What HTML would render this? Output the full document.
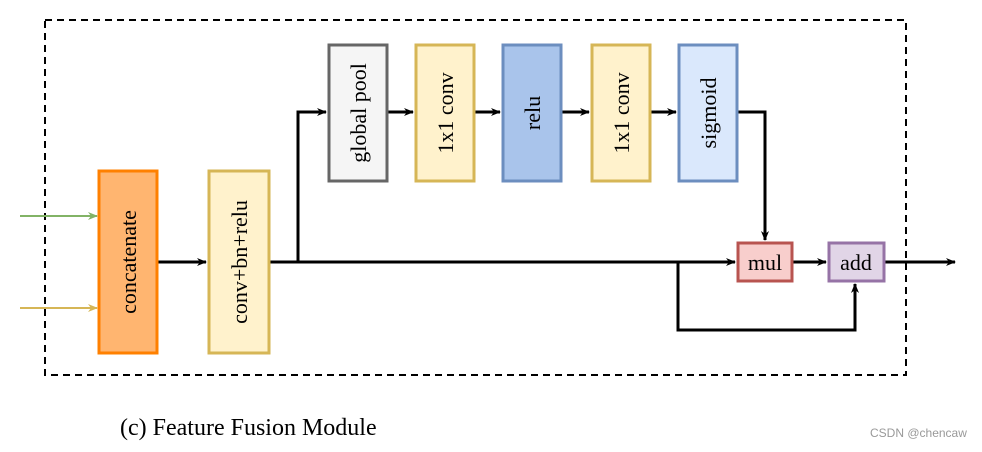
<!DOCTYPE html>
<html><head><style>body{margin:0;background:#fff}</style></head><body>
<svg width="982" height="447" xmlns="http://www.w3.org/2000/svg" font-family="Liberation Serif, serif">
<defs>
<marker id="a" markerWidth="10" markerHeight="8" refX="9" refY="4" orient="auto" markerUnits="userSpaceOnUse"><path d="M0,0 L10,4 L0,8 L3,4z" fill="#000"/></marker>
<marker id="g" markerWidth="10" markerHeight="8" refX="9" refY="4" orient="auto" markerUnits="userSpaceOnUse"><path d="M0,0 L10,4 L0,8 L3,4z" fill="#82b366"/></marker>
<marker id="y" markerWidth="10" markerHeight="8" refX="9" refY="4" orient="auto" markerUnits="userSpaceOnUse"><path d="M0,0 L10,4 L0,8 L3,4z" fill="#d6b656"/></marker>
</defs>
<rect x="45" y="20" width="861" height="355" fill="none" stroke="#000" stroke-width="2" stroke-dasharray="7,5"/>
<line x1="20" y1="216" x2="97" y2="216" stroke="#82b366" stroke-width="2" marker-end="url(#g)"/>
<line x1="20" y1="308" x2="97" y2="308" stroke="#d6b656" stroke-width="2" marker-end="url(#y)"/>
<g stroke="#000" stroke-width="3" fill="none">
<line x1="158" y1="262" x2="206" y2="262" marker-end="url(#a)"/>
<line x1="270" y1="262" x2="735" y2="262" marker-end="url(#a)"/>
<polyline points="298,262 298,112 326,112" marker-end="url(#a)"/>
<line x1="388" y1="112" x2="413" y2="112" marker-end="url(#a)"/>
<line x1="475" y1="112" x2="500" y2="112" marker-end="url(#a)"/>
<line x1="562" y1="112" x2="589" y2="112" marker-end="url(#a)"/>
<line x1="651" y1="112" x2="676" y2="112" marker-end="url(#a)"/>
<polyline points="738,112 765,112 765,240" marker-end="url(#a)"/>
<line x1="793" y1="262" x2="826" y2="262" marker-end="url(#a)"/>
<polyline points="678,262 678,330 855,330 855,284" marker-end="url(#a)"/>
<line x1="885" y1="262" x2="955" y2="262" marker-end="url(#a)"/>
</g>
<g stroke-width="3">
<rect x="99" y="171" width="58" height="182" fill="#ffb570" stroke="#ff8000"/>
<rect x="209" y="171" width="60" height="182" fill="#fff2cc" stroke="#d6b656"/>
<rect x="329" y="45" width="58" height="136" fill="#f5f5f5" stroke="#666"/>
<rect x="416" y="45" width="58" height="136" fill="#fff2cc" stroke="#d6b656"/>
<rect x="503" y="45" width="58" height="136" fill="#a9c4eb" stroke="#6c8ebf"/>
<rect x="592" y="45" width="58" height="136" fill="#fff2cc" stroke="#d6b656"/>
<rect x="679" y="45" width="58" height="136" fill="#dae8fc" stroke="#6c8ebf"/>
<rect x="738" y="243" width="54" height="38" fill="#f8cecc" stroke="#b85450"/>
<rect x="829" y="243" width="55" height="38" fill="#e1d5e7" stroke="#9673a6"/>
</g>
<g font-size="22" text-anchor="middle" fill="#000">
<text transform="translate(136,262) rotate(-90)">concatenate</text>
<text transform="translate(247,262) rotate(-90)">conv+bn+relu</text>
<text transform="translate(366,113) rotate(-90)">global pool</text>
<text transform="translate(453,113) rotate(-90)">1x1 conv</text>
<text transform="translate(540,113) rotate(-90)">relu</text>
<text transform="translate(629,113) rotate(-90)">1x1 conv</text>
<text transform="translate(716,113) rotate(-90)">sigmoid</text>
<text x="765" y="270">mul</text>
<text x="856" y="270">add</text>
</g>
<text x="120" y="435" font-size="24">(c) Feature Fusion Module</text>
<text x="870" y="437" font-size="12" font-family="Liberation Sans, sans-serif" fill="#999">CSDN @chencaw</text>
</svg>
</body></html>
